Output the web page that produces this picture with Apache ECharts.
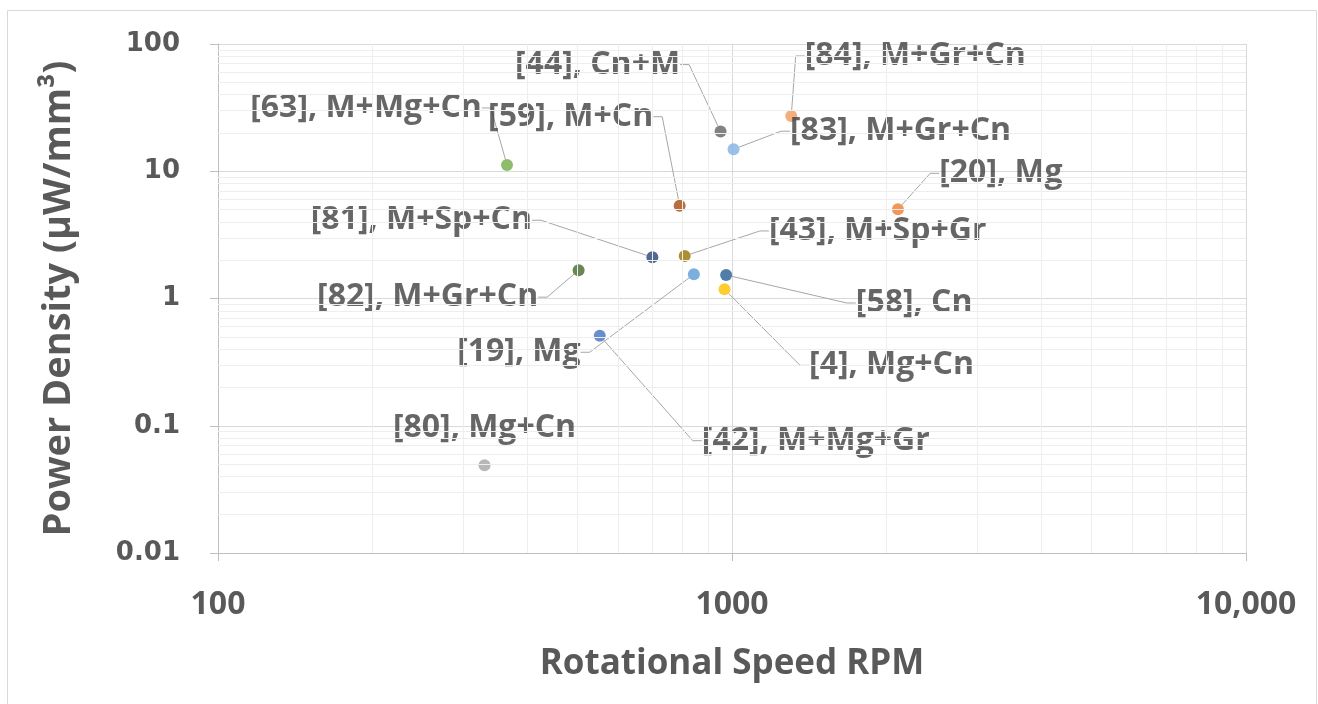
<!DOCTYPE html>
<html>
<head>
<meta charset="utf-8">
<script src="https://cdn.jsdelivr.net/npm/echarts@6/dist/echarts.min.js"></script>
<style>
  html, body { margin: 0; padding: 0; background: #fff; }
  #chart { width: 1318px; height: 704px; }
</style>
</head>
<body>
<div id="chart"></div>
<script>
  // data
  const labels = ['[63], M+Mg+Cn', '[44], Cn+M', '[83], M+Gr+Cn', '[84], M+Gr+Cn', '[59], M+Cn', '[20], Mg',
    '[81], M+Sp+Cn', '[43], M+Sp+Gr', '[82], M+Gr+Cn', '[19], Mg', '[58], Cn', '[4], Mg+Cn', '[42], M+Mg+Gr', '[80], Mg+Cn']
  const rpm = [365, 950, 1007, 1304, 791, 2103, 700, 809, 503, 843, 974, 967, 553, 330]
  const density = [11.2, 20.5, 14.9, 27.2, 5.36, 5.02, 2.11, 2.16, 1.67, 1.55, 1.53, 1.18, 0.51, 0.049]

  const xTicks = [100, 1000, 10000]
  const xTickText = ['100', '1000', '10,000']
  const yTicks = [0.01, 0.1, 1, 10, 100]
  const yTickText = ['0.01', '0.1', '1', '10', '100']

  // styles (kept apart from the values)
  const colors = ['#70AD47', '#636363', '#7FB2E5', '#F19A5D', '#A5480F', '#ED7D31',
    '#264478', '#997300', '#43682B', '#5B9BD5', '#255E91', '#FFC000', '#4472C4', '#A5A5A5']
  // label centre offset from its point, px
  const labelOffset = [[-141, -57], [-123, -67], [167, -18], [124, -60], [-109, -89], [103, -36],
    [-231, -37], [193, -25], [-151, 27], [-175, 78], [188, 28], [167, 76], [216, 105], [0, -37]]

  // minor gridlines at 2..9 of each decade
  const xMinor = []
  for (let d = 100; d < 10000; d *= 10) for (let k = 2; k <= 9; k++) xMinor.push(k * d)
  const yMinor = []
  for (let d = 0.01; d < 99; d *= 10) for (let k = 2; k <= 9; k++) yMinor.push(+(k * d).toPrecision(3))

  const chart = echarts.init(document.getElementById('chart'))

  const points = rpm.map((x, i) => ({
    value: [x, density[i]],
    name: labels[i],
    itemStyle: { color: colors[i] },
    labelLine: { show: i !== 13 }
  }))

  chart.setOption({
    animation: false,
    grid: { left: 218, right: 72, top: 44, bottom: 151 },
    graphic: [{
      type: 'rect',
      shape: { x: 7.5, y: 10.5, width: 1309, height: 700 },
      style: { fill: 'none', stroke: '#D9D9D9', lineWidth: 1 },
      silent: true
    }],
    xAxis: {
      type: 'log',
      logBase: 10,
      min: 100,
      max: 10000,
      name: 'Rotational Speed RPM',
      nameLocation: 'middle',
      nameGap: 94,
      nameTextStyle: { fontFamily: 'Open Sans', fontWeight: 'bold', fontSize: 35, color: '#595959' },
      axisLine: { lineStyle: { color: '#BFBFBF' } },
      axisTick: { show: true, length: 8, lineStyle: { color: '#BFBFBF' } },
      axisLabel: {
        margin: 36,
        fontFamily: 'Open Sans', fontWeight: 'bold', fontSize: 32, color: '#595959',
        formatter: (v) => {
          const i = xTicks.findIndex(t => Math.abs(t - v) < 1e-6 * t)
          return i >= 0 ? xTickText[i] : ''
        }
      },
      splitLine: { show: true, lineStyle: { color: '#D9D9D9' } }
    },
    yAxis: {
      type: 'log',
      logBase: 10,
      min: 0.01,
      max: 100,
      name: 'Power Density (µW/mm³)',
      nameLocation: 'middle',
      nameRotate: 90,
      nameGap: 140,
      nameTextStyle: { fontFamily: 'Open Sans', fontWeight: 'bold', fontSize: 38, color: '#595959' },
      axisLine: { show: true, lineStyle: { color: '#BFBFBF' } },
      axisTick: { show: true, length: 8, lineStyle: { color: '#BFBFBF' } },
      axisLabel: {
        margin: 38,
        fontFamily: 'DejaVu Sans', fontWeight: 'bold', fontSize: 26, color: '#595959',
        formatter: (v) => {
          const i = yTicks.findIndex(t => Math.abs(t - v) < 1e-6 * t)
          return i >= 0 ? yTickText[i] : ''
        }
      },
      splitLine: { show: true, lineStyle: { color: '#D9D9D9' } }
    },
    series: [
      {
        // minor gridlines
        type: 'scatter',
        data: [],
        z: 1,
        silent: true,
        markLine: {
          silent: true,
          symbol: 'none',
          label: { show: false },
          lineStyle: { color: '#EEEEEE', type: 'solid', width: 1 },
          data: xMinor.map(v => ({ xAxis: v })).concat(yMinor.map(v => ({ yAxis: v })))
        }
      },
      {
        type: 'scatter',
        z: 3,
        symbolSize: 12,
        data: points,
        label: {
          show: true,
          position: 'right',
          formatter: '{b}',
          fontFamily: 'Open Sans',
          fontWeight: 'bold',
          fontSize: 32,
          color: '#404040'
        },
        labelLine: {
          show: true,
          length2: 9,
          lineStyle: { color: '#A6A6A6', width: 1 }
        },
        labelLayout: (p) => ({
          x: p.rect.x + p.rect.width / 2 + labelOffset[p.dataIndex][0],
          y: p.rect.y + p.rect.height / 2 + labelOffset[p.dataIndex][1],
          align: 'center',
          verticalAlign: 'middle'
        })
      }
    ]
  })
</script>
</body>
</html>
